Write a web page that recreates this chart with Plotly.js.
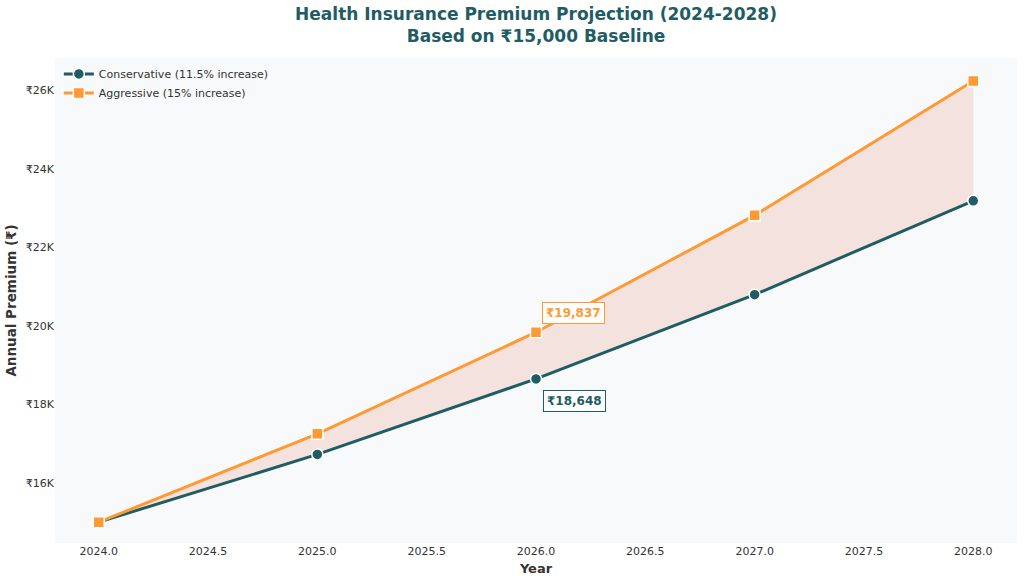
<!DOCTYPE html>
<html>
<head>
<meta charset="utf-8">
<script src="https://cdn.plot.ly/plotly-3.0.1.min.js"></script>
<style>
  html, body { margin: 0; padding: 0; background: #ffffff; }
  #chart { width: 1024px; height: 584px; }
</style>
</head>
<body>
<div id="chart"></div>
<script>
// Premium projection, values
const years = [2024, 2025, 2026, 2027, 2028];
const conservative = [15000, 16725, 18648, 20793, 23184];
const aggressive = [15000, 17250, 19837, 22813, 26235];
const yTickVals = [16000, 18000, 20000, 22000, 24000, 26000];
const yTickText = ["₹16K", "₹18K", "₹20K", "₹22K", "₹24K", "₹26K"];

const teal = "#1f5c63";
const orange = "#ff9933";
const font = "DejaVu Sans, Arial, sans-serif";

let data = [
		// band between the two scenarios
		{
			x: years,
			y: conservative,
			mode: "lines",
			line: { width: 0, color: "rgba(0,0,0,0)" },
			showlegend: false,
			hoverinfo: "skip",
		},
		{
			x: years,
			y: aggressive,
			mode: "lines",
			fill: "tonexty",
			fillcolor: "rgba(225,105,80,0.16)",
			line: { width: 0, color: "rgba(0,0,0,0)" },
			showlegend: false,
			hoverinfo: "skip",
		},
		{
			x: years,
			y: conservative,
			mode: "lines+markers",
			name: "Conservative (11.5% increase)",
			line: { color: teal, width: 3 },
			marker: { symbol: "circle", size: 11, color: teal, line: { color: "#ffffff", width: 1.5 } },
		},
		{
			x: years,
			y: aggressive,
			mode: "lines+markers",
			name: "Aggressive (15% increase)",
			line: { color: orange, width: 3 },
			marker: { symbol: "square", size: 11, color: orange, line: { color: "#ffffff", width: 1.5 } },
		},
	],
	layout = {
		width: 1024,
		height: 584,
		paper_bgcolor: "#ffffff",
		plot_bgcolor: "#f8f9fa",
		font: { family: font, color: "#333333", size: 11 },
		margin: { l: 55, r: 7, t: 58, b: 41, pad: 0 },
		title: {
			text: "<b>Health Insurance Premium Projection (2024-2028)<br>Based on ₹15,000 Baseline</b>",
			font: { family: font, size: 17, color: teal },
			x: 0.5,
			xref: "paper",
			xanchor: "center",
			yref: "container",
			y: 0.966,
			yanchor: "middle",
		},
		showlegend: true,
		legend: {
			x: 0.004,
			y: 0.997,
			xanchor: "left",
			yanchor: "top",
			traceorder: "normal",
			bgcolor: "rgba(0,0,0,0)",
			font: { family: font, size: 11, color: "#333333" },
			tracegroupgap: 0,
			itemwidth: 30,
		},
		xaxis: {
			range: [2023.8, 2028.2],
			tickvals: [2024, 2024.5, 2025, 2025.5, 2026, 2026.5, 2027, 2027.5, 2028],
			tickformat: ".1f",
			showgrid: false,
			zeroline: false,
			showline: false,
			ticks: "",
			title: { text: "<b>Year</b>", font: { family: font, size: 13, color: "#333333" }, standoff: 6 },
		},
		yaxis: {
			range: [14470, 26820],
			tickvals: yTickVals,
			ticktext: yTickText,
			showgrid: false,
			zeroline: false,
			showline: false,
			ticks: "",
			title: { text: "<b>Annual Premium (₹)</b>", font: { family: font, size: 13.5, color: "#333333" }, standoff: 6 },
		},
		annotations: [
			{
				x: years[2],
				y: aggressive[2],
				text: "<b>₹" + aggressive[2].toLocaleString("en-US") + "</b>",
				showarrow: false,
				xshift: 37,
				yshift: 19,
				font: { family: font, size: 12, color: orange },
				bgcolor: "#ffffff",
				bordercolor: orange,
				borderwidth: 1,
				borderpad: 3,
			},
			{
				x: years[2],
				y: conservative[2],
				text: "<b>₹" + conservative[2].toLocaleString("en-US") + "</b>",
				showarrow: false,
				xshift: 38,
				yshift: -22,
				font: { family: font, size: 12, color: teal },
				bgcolor: "#ffffff",
				bordercolor: teal,
				borderwidth: 1,
				borderpad: 3,
			},
		],
	};

Plotly.newPlot("chart", data, layout, { displayModeBar: false });
</script>
</body>
</html>
